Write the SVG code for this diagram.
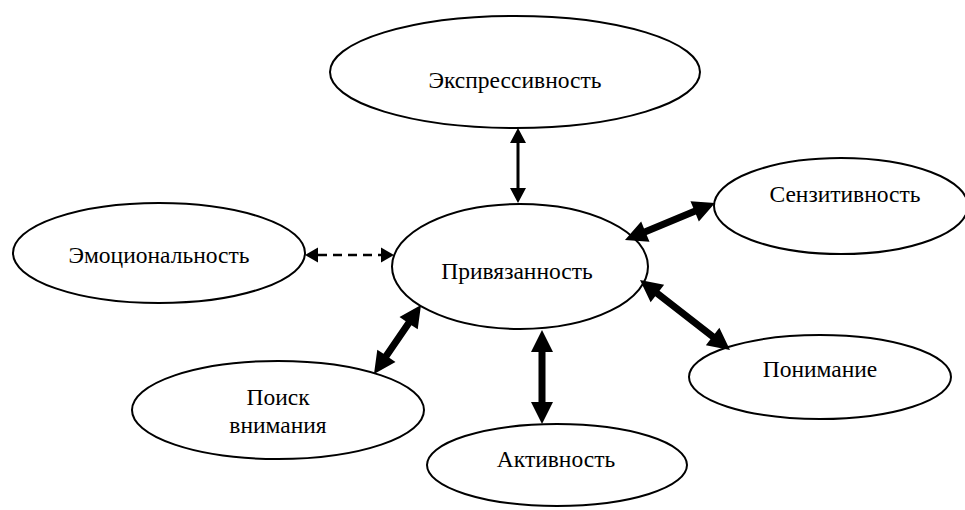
<svg xmlns="http://www.w3.org/2000/svg" width="965" height="510" viewBox="0 0 965 510">
<style>
.node ellipse{fill:#fff;stroke:#000;stroke-width:2}
.node text{font-family:'Liberation Serif','DejaVu Serif',serif;font-size:23.5px;fill:#000;text-anchor:middle}
.arr{fill:#000;stroke:none}
.dash{stroke:#000;stroke-width:2.5;stroke-dasharray:9 6;fill:none}
</style>
<rect width="965" height="510" fill="#fff"/>
<g id="n-expr" class="node"><ellipse cx="515" cy="72" rx="185" ry="56"/><text x="515" y="88">Экспрессивность</text></g>
<g id="n-sens" class="node"><ellipse cx="841" cy="206" rx="127" ry="48"/><text x="845" y="202">Сензитивность</text></g>
<g id="n-emot" class="node"><ellipse cx="159" cy="253" rx="146" ry="50"/><text x="159" y="263">Эмоциональность</text></g>
<g id="n-priv" class="node"><ellipse cx="520" cy="266.5" rx="128" ry="62.5"/><text x="517" y="279">Привязанность</text></g>
<g id="n-poisk" class="node"><ellipse cx="278" cy="410" rx="146" ry="49"/><text x="278" y="405">Поиск</text><text x="278" y="433">внимания</text></g>
<g id="n-akt" class="node"><ellipse cx="557" cy="465" rx="130" ry="41"/><text x="556" y="467">Активность</text></g>
<g id="n-ponim" class="node"><ellipse cx="820" cy="377" rx="131" ry="42"/><text x="820" y="377">Понимание</text></g>
<g id="connectors">
<polygon class="arr" points="518,128 526,143 519.5,143 519.5,188 526,188 518,203 510,188 516.5,188 516.5,143 510,143"/>
<polygon class="arr" points="542,330 553,352 545.5,352 545.5,402 553,402 542,424 531,402 538.5,402 538.5,352 531,352"/>
<polygon class="arr" points="421,305 417.71,329.36 411.51,325.14 389.27,357.8 395.47,362.02 374,374 377.29,349.64 383.49,353.86 405.73,321.2 399.53,316.98"/>
<polygon class="arr" points="640,280 650.62,302.19 655.22,296.27 710.48,339.25 705.88,345.17 730,350 719.38,327.81 714.78,333.73 659.52,290.75 664.12,284.83"/>
<polygon class="arr" points="625,240 649.53,241.82 646.68,234.88 695.98,214.6 698.83,221.54 715,203 690.47,201.18 693.32,208.12 644.02,228.4 641.17,221.46"/>
<line class="dash" x1="318" y1="255" x2="381" y2="255"/>
<polygon class="arr" points="305,255 318,247.5 318,262.5"/>
<polygon class="arr" points="394,255 381,247.5 381,262.5"/>
</g>
</svg>
